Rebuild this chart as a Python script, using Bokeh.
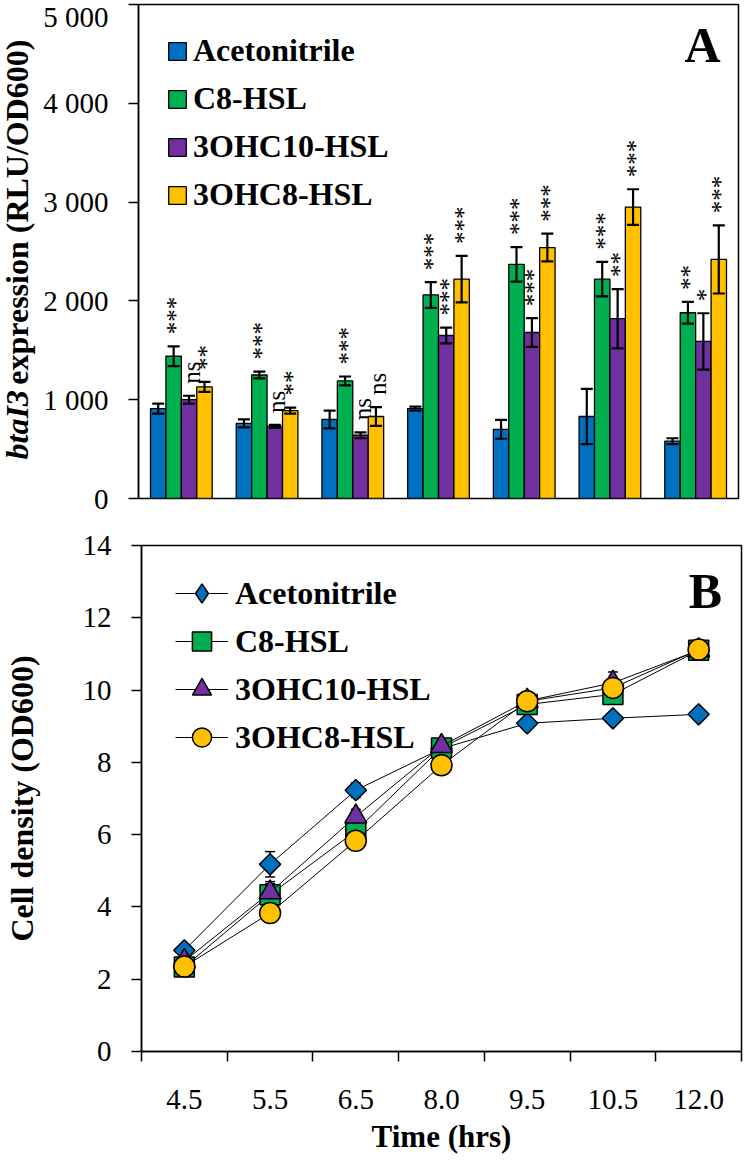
import numpy as np
from math import pi
from bokeh.plotting import figure
from bokeh.models import (ColumnDataSource, FactorRange, Range1d, FixedTicker,
                          Whisker, TeeHead, Label, Legend, LegendItem)
from bokeh.layouts import column, row
from bokeh.transform import dodge
from bokeh.core.properties import value
from bokeh.embed import file_html
from bokeh.resources import INLINE

# ---------------- data ----------------
times = ["4.5", "5.5", "6.5", "8.0", "9.5", "10.5", "12.0"]
series = ["Acetonitrile", "C8-HSL", "3OHC10-HSL", "3OHC8-HSL"]
colors = ["#0070C0", "#00B050", "#7030A0", "#FFC000"]

# Panel A: btaI3 expression (RLU/OD600)
expr_acetonitrile = [910, 760, 800, 910, 700, 830, 580]
expr_c8 = [1440, 1250, 1190, 2060, 2370, 2220, 1880]
expr_3ohc10 = [1000, 730, 640, 1650, 1680, 1820, 1590]
expr_3ohc8 = [1130, 890, 830, 2220, 2540, 2950, 2420]
expr_err_acetonitrile = [50, 40, 90, 20, 95, 280, 30]
expr_err_c8 = [100, 35, 45, 130, 175, 175, 110]
expr_err_3ohc10 = [40, 15, 30, 80, 145, 300, 285]
expr_err_3ohc8 = [50, 30, 95, 235, 140, 180, 345]
sig_acetonitrile = ["", "", "", "", "", "", ""]
sig_c8 = ["***", "***", "***", "***", "***", "***", "**"]
sig_3ohc10 = ["ns", "ns", "ns", "***", "***", "**", "*"]
sig_3ohc8 = ["**", "**", "ns", "***", "***", "***", "***"]
a_ticks = [0, 1000, 2000, 3000, 4000, 5000]
a_tick_labels = ["0", "1 000", "2 000", "3 000", "4 000", "5 000"]
a_title_gene = "btaI3"
a_title_rest = "expression (RLU/OD600)"

# Panel B: cell density (OD600)
od_acetonitrile = [2.80, 5.18, 7.23, 8.38, 9.08, 9.22, 9.33]
od_c8 = [2.34, 4.34, 6.10, 8.40, 9.60, 9.88, 11.10]
od_3ohc10 = [2.50, 4.40, 6.50, 8.45, 9.70, 10.20, 11.10]
od_3ohc8 = [2.35, 3.83, 5.83, 7.92, 9.69, 10.06, 11.12]
od_err_acetonitrile = [0.10, 0.35, 0.20, 0.10, 0.10, 0.10, 0.05]
od_err_c8 = [0.10, 0.30, 0.20, 0.15, 0.15, 0.20, 0.10]
od_err_3ohc10 = [0.10, 0.30, 0.20, 0.10, 0.10, 0.30, 0.10]
od_err_3ohc8 = [0.10, 0.20, 0.15, 0.10, 0.10, 0.20, 0.10]
b_ticks = [0, 2, 4, 6, 8, 10, 12, 14]

FONT = "Liberation Serif"

expr = [expr_acetonitrile, expr_c8, expr_3ohc10, expr_3ohc8]
expr_err = [expr_err_acetonitrile, expr_err_c8, expr_err_3ohc10, expr_err_3ohc8]
sigs = [sig_acetonitrile, sig_c8, sig_3ohc10, sig_3ohc8]
ods = [od_acetonitrile, od_c8, od_3ohc10, od_3ohc8]
od_errs = [od_err_acetonitrile, od_err_c8, od_err_3ohc10, od_err_3ohc8]


def style_yaxis(ax):
    ax.major_label_text_font = FONT
    ax.major_label_text_font_size = "29px"
    ax.major_label_text_color = "black"
    ax.major_label_standoff = 20
    ax.major_tick_in = 0
    ax.major_tick_out = 10
    ax.major_tick_line_width = 1.5
    ax.major_tick_line_color = "black"
    ax.minor_tick_line_color = None
    ax.axis_line_width = 1.5
    ax.axis_line_color = "black"


# ---------------- Panel A ----------------
yr_a = Range1d(0, 5000)
p1 = figure(frame_width=600, frame_height=494, x_range=FactorRange(*times, range_padding=0),
            y_range=yr_a, output_backend="svg", toolbar_location=None,
            min_border_left=98, min_border_right=2, min_border_top=4, min_border_bottom=18)
p1.xaxis.visible = False
p1.grid.visible = False
p1.outline_line_color = "black"
p1.outline_line_width = 1.5

ya = p1.yaxis[0]
ya.ticker = FixedTicker(ticks=a_ticks)
ya.major_label_overrides = {t: l for t, l in zip(a_ticks, a_tick_labels)}
style_yaxis(ya)

offsets = [-0.27, -0.09, 0.09, 0.27]
bar_w = 0.18
for i, name in enumerate(series):
    vals = expr[i]
    errs = expr_err[i]
    src = ColumnDataSource(dict(
        time=times, top=vals,
        upper=[v + e for v, e in zip(vals, errs)],
        lower=[v - e for v, e in zip(vals, errs)],
        sig=sigs[i]))
    xd = dodge("time", offsets[i], range=p1.x_range)
    p1.vbar(x=xd, top="top", width=bar_w, source=src, fill_color=colors[i],
            line_color="black", line_width=1.3, legend_label=name)
    w = Whisker(base=dodge("time", offsets[i], range=p1.x_range), upper="upper", lower="lower",
                source=src, line_width=2.2, line_color="black", level="annotation",
                upper_head=TeeHead(size=12, line_width=2.2, line_color="black"),
                lower_head=TeeHead(size=12, line_width=2.2, line_color="black"))
    p1.add_layout(w)
    p1.text(x=dodge("time", offsets[i], range=p1.x_range), y="upper", text="sig", source=src,
            angle=pi / 2, text_align="left", text_baseline="middle", y_offset=-12,
            x_offset=2, text_font=value(FONT), text_font_size="25px", text_color="black")

lg1 = p1.legend[0]
lg1.location = "top_left"
lg1.label_text_font = FONT
lg1.label_text_font_style = "bold"
lg1.label_text_font_size = "32px"
lg1.label_text_color = "black"
lg1.glyph_width = 22
lg1.glyph_height = 22
lg1.label_standoff = 5
lg1.spacing = 11
lg1.margin = 28
lg1.padding = 11
lg1.border_line_color = None
lg1.background_fill_alpha = 0

p1.add_layout(Label(x=6.58, y=4595, text="A", text_font=FONT, text_font_style="bold",
                    text_font_size="50px", text_align="center", text_baseline="middle",
                    text_color="black"))

# side strip carrying the panel A y-axis title (italic gene name + bold rest)
side = figure(frame_width=40, frame_height=494, x_range=Range1d(0, 1), y_range=yr_a,
              output_backend="svg", toolbar_location=None,
              min_border_left=0, min_border_right=0, min_border_top=4, min_border_bottom=18)
side.axis.visible = False
side.grid.visible = False
side.outline_line_color = None
side.text(x=[0.4], y=[395], text=[a_title_gene], angle=pi / 2, text_align="left",
          text_baseline="middle", text_font=value(FONT), text_font_style="bold italic",
          text_font_size="32px", text_color="black")
side.text(x=[0.4], y=[4646], text=[a_title_rest], angle=pi / 2, text_align="right",
          text_baseline="middle", text_font=value(FONT), text_font_style="bold",
          text_font_size="32px", text_color="black")

# ---------------- Panel B ----------------
n = len(times)
xpos = [i + 0.5 for i in range(n)]
p2 = figure(frame_width=600, frame_height=506, x_range=Range1d(0, n), y_range=Range1d(0, 14),
            output_backend="svg", toolbar_location=None,
            min_border_left=138, min_border_right=2, min_border_top=29, min_border_bottom=90)
p2.grid.visible = False
p2.outline_line_color = "black"
p2.outline_line_width = 1.5

xb = p2.xaxis[0]
xb.ticker = FixedTicker(ticks=xpos, minor_ticks=list(range(n + 1)))
xb.major_label_overrides = {x: t for x, t in zip(xpos, times)}
xb.major_label_text_font = FONT
xb.major_label_text_font_size = "29px"
xb.major_label_text_color = "black"
xb.major_label_standoff = 28
xb.major_tick_in = 0
xb.major_tick_out = 0
xb.minor_tick_in = 0
xb.minor_tick_out = 10
xb.minor_tick_line_width = 1.5
xb.minor_tick_line_color = "black"
xb.axis_line_width = 1.5
xb.axis_line_color = "black"
xb.axis_label = "Time (hrs)"
xb.axis_label_text_font = FONT
xb.axis_label_text_font_style = "bold"
xb.axis_label_text_font_size = "31px"
xb.axis_label_text_color = "black"
xb.axis_label_standoff = 7

yb = p2.yaxis[0]
yb.ticker = FixedTicker(ticks=b_ticks)
style_yaxis(yb)
yb.axis_label = "Cell density (OD600)"
yb.axis_label_text_font = FONT
yb.axis_label_text_font_style = "bold"
yb.axis_label_text_font_size = "32px"
yb.axis_label_text_color = "black"
yb.axis_label_standoff = 40

markers = [("square", 15, pi / 4), ("square", 20, 0), ("triangle", 22, 0), ("circle", 21, 0)]
legend_markers = ["diamond", "square", "triangle", "circle"]
for i, name in enumerate(series):
    vals = ods[i]
    errs = od_errs[i]
    src = ColumnDataSource(dict(x=xpos, y=vals,
                                upper=[v + e for v, e in zip(vals, errs)],
                                lower=[v - e for v, e in zip(vals, errs)]))
    w = Whisker(base="x", upper="upper", lower="lower", source=src, line_width=1.5,
                line_color="black", level="underlay",
                upper_head=TeeHead(size=10, line_width=1.5, line_color="black"),
                lower_head=TeeHead(size=10, line_width=1.5, line_color="black"))
    p2.add_layout(w)
items = []
for i, name in enumerate(series):
    src = ColumnDataSource(dict(x=xpos, y=ods[i]))
    r_line = p2.line("x", "y", source=src, line_color="black", line_width=1)
    mk, sz, ang = markers[i]
    p2.scatter("x", "y", source=src, marker=mk, size=sz, angle=ang,
               fill_color=colors[i], line_color="black", line_width=1.5)
    # key symbol for the legend (unrotated marker shape), not drawn in the plot area
    r_key = p2.scatter("x", "y", source=src, marker=legend_markers[i], size=sz,
                       fill_color=colors[i], line_color="black", line_width=1.5,
                       visible=False)
    items.append(LegendItem(label=name, renderers=[r_line, r_key]))

lg2 = Legend(items=items, location=(34, 290))
lg2.label_text_font = FONT
lg2.label_text_font_style = "bold"
lg2.label_text_font_size = "32px"
lg2.label_text_color = "black"
lg2.glyph_width = 53
lg2.glyph_height = 48
lg2.label_standoff = 7
lg2.spacing = 0
lg2.margin = 0
lg2.padding = 0
lg2.border_line_color = None
lg2.background_fill_alpha = 0
lg2.inactive_fill_alpha = 0
p2.add_layout(lg2)

p2.add_layout(Label(x=6.58, y=12.75, text="B", text_font=FONT, text_font_style="bold",
                    text_font_size="50px", text_align="center", text_baseline="middle",
                    text_color="black"))

layout = column(row(side, p1, spacing=0), p2, spacing=0)
open("out.html", "w").write(file_html(layout, INLINE))
